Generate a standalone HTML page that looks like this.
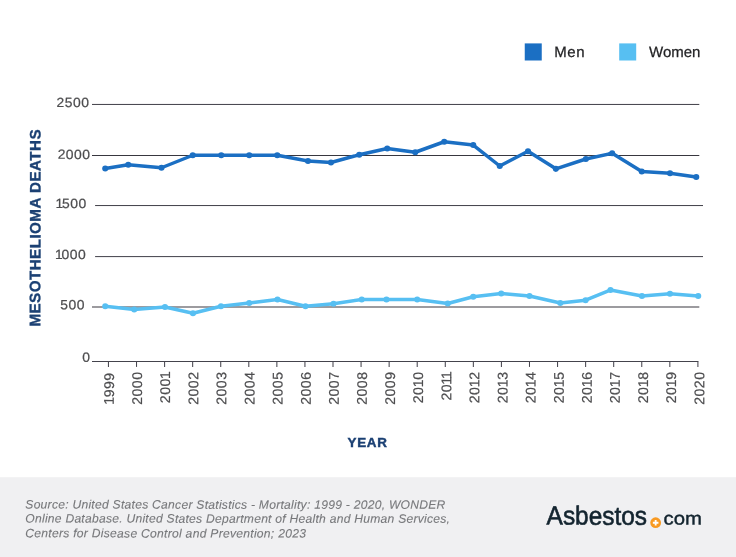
<!DOCTYPE html>
<html lang="en"><head><meta charset="utf-8"><title>Mesothelioma Deaths by Year</title>
<style>
html,body{margin:0;padding:0;background:#fff;}
body{width:736px;height:557px;overflow:hidden;}
svg{display:block;}
text{font-family:"Liberation Sans",Arial,Helvetica,sans-serif;}
.yl{font-size:13.3px;fill:#4d4d4f;stroke:#4d4d4f;stroke-width:0.22px;text-anchor:end;letter-spacing:0.45px;}
.xl{font-size:14px;fill:#4d4d4f;stroke:#4d4d4f;stroke-width:0.2px;letter-spacing:0.55px;}
.ttl{font-weight:bold;fill:#1b4073;stroke:#1b4073;stroke-width:0.35px;}
.src{font-size:12.1px;font-style:italic;fill:#77787b;stroke:#77787b;stroke-width:0.12px;}
.leg{font-size:15px;fill:#222224;stroke:#222224;stroke-width:0.25px;}
.logo{fill:#13242f;stroke:#13242f;stroke-width:0.6px;}
</style></head><body>
<svg width="736" height="557" viewBox="0 0 736 557">
<rect x="0" y="0" width="736" height="557" fill="#ffffff"/>
<rect x="0" y="477.2" width="736" height="80" fill="#f0f0f2"/>
<defs><filter id="soft" x="0" y="0" width="736" height="557" filterUnits="userSpaceOnUse" color-interpolation-filters="sRGB"><feGaussianBlur stdDeviation="0.35"/></filter></defs>
<g filter="url(#soft)">

<rect x="524.75" y="43.4" width="17" height="17.1" fill="#1b6fc3"/>
<text class="leg" transform="translate(554.3,57.0) rotate(0.05)" textLength="30.2">Men</text>
<rect x="619.2" y="43.4" width="17" height="17.1" fill="#57bff2"/>
<text class="leg" transform="translate(649,57.0) rotate(0.05)">Women</text>
<line x1="92.0" y1="104.45" x2="699.3" y2="104.45" stroke="#403f48" stroke-width="1.0"/>
<line x1="92.0" y1="155.5" x2="699.3" y2="155.5" stroke="#38373f" stroke-width="1.0"/>
<line x1="95.1" y1="205.55" x2="703" y2="205.55" stroke="#403f48" stroke-width="1.0"/>
<line x1="95.1" y1="256.6" x2="703" y2="256.6" stroke="#403f48" stroke-width="1.0"/>
<line x1="92.0" y1="307.0" x2="699.3" y2="307.0" stroke="#9c9b9f" stroke-width="2.0"/>
<line x1="92.0" y1="361.5" x2="698.4" y2="361.5" stroke="#44434c" stroke-width="1.05"/>
<line x1="108.45" y1="361.4" x2="108.45" y2="366.9" stroke="#47464f" stroke-width="1.05"/>
<line x1="136.52" y1="361.4" x2="136.52" y2="366.9" stroke="#47464f" stroke-width="1.05"/>
<line x1="164.59" y1="361.4" x2="164.59" y2="366.9" stroke="#47464f" stroke-width="1.05"/>
<line x1="192.66" y1="361.4" x2="192.66" y2="366.9" stroke="#47464f" stroke-width="1.05"/>
<line x1="220.73" y1="361.4" x2="220.73" y2="366.9" stroke="#47464f" stroke-width="1.05"/>
<line x1="248.80" y1="361.4" x2="248.80" y2="366.9" stroke="#47464f" stroke-width="1.05"/>
<line x1="276.86" y1="361.4" x2="276.86" y2="366.9" stroke="#47464f" stroke-width="1.05"/>
<line x1="304.93" y1="361.4" x2="304.93" y2="366.9" stroke="#47464f" stroke-width="1.05"/>
<line x1="333.00" y1="361.4" x2="333.00" y2="366.9" stroke="#47464f" stroke-width="1.05"/>
<line x1="361.07" y1="361.4" x2="361.07" y2="366.9" stroke="#47464f" stroke-width="1.05"/>
<line x1="389.14" y1="361.4" x2="389.14" y2="366.9" stroke="#47464f" stroke-width="1.05"/>
<line x1="417.21" y1="361.4" x2="417.21" y2="366.9" stroke="#47464f" stroke-width="1.05"/>
<line x1="445.28" y1="361.4" x2="445.28" y2="366.9" stroke="#47464f" stroke-width="1.05"/>
<line x1="473.35" y1="361.4" x2="473.35" y2="366.9" stroke="#47464f" stroke-width="1.05"/>
<line x1="501.42" y1="361.4" x2="501.42" y2="366.9" stroke="#47464f" stroke-width="1.05"/>
<line x1="529.49" y1="361.4" x2="529.49" y2="366.9" stroke="#47464f" stroke-width="1.05"/>
<line x1="557.55" y1="361.4" x2="557.55" y2="366.9" stroke="#47464f" stroke-width="1.05"/>
<line x1="585.62" y1="361.4" x2="585.62" y2="366.9" stroke="#47464f" stroke-width="1.05"/>
<line x1="613.69" y1="361.4" x2="613.69" y2="366.9" stroke="#47464f" stroke-width="1.05"/>
<line x1="641.76" y1="361.4" x2="641.76" y2="366.9" stroke="#47464f" stroke-width="1.05"/>
<line x1="669.83" y1="361.4" x2="669.83" y2="366.9" stroke="#47464f" stroke-width="1.05"/>
<line x1="697.90" y1="361.4" x2="697.90" y2="366.9" stroke="#47464f" stroke-width="1.05"/>
<text class="xl" text-anchor="end" transform="translate(113.90,371.5) rotate(-89.95)"><tspan dx="-0.8" style="letter-spacing:-0.3px">1</tspan>999</text>
<text class="xl" text-anchor="end" transform="translate(142.01,371.5) rotate(-89.95)">2000</text>
<text class="xl" text-anchor="end" transform="translate(170.12,371.5) rotate(-89.95)">200<tspan dx="-0.8" style="letter-spacing:-0.3px">1</tspan></text>
<text class="xl" text-anchor="end" transform="translate(198.23,371.5) rotate(-89.95)">2002</text>
<text class="xl" text-anchor="end" transform="translate(226.34,371.5) rotate(-89.95)">2003</text>
<text class="xl" text-anchor="end" transform="translate(254.45,371.5) rotate(-89.95)">2004</text>
<text class="xl" text-anchor="end" transform="translate(282.56,371.5) rotate(-89.95)">2005</text>
<text class="xl" text-anchor="end" transform="translate(310.67,371.5) rotate(-89.95)">2006</text>
<text class="xl" text-anchor="end" transform="translate(338.78,371.5) rotate(-89.95)">2007</text>
<text class="xl" text-anchor="end" transform="translate(366.89,371.5) rotate(-89.95)">2008</text>
<text class="xl" text-anchor="end" transform="translate(395.00,371.5) rotate(-89.95)">2009</text>
<text class="xl" text-anchor="end" transform="translate(423.11,371.5) rotate(-89.95)">20<tspan dx="-0.8" style="letter-spacing:-0.3px">1</tspan>0</text>
<text class="xl" text-anchor="end" transform="translate(451.22,371.5) rotate(-89.95)">20<tspan dx="-0.8" style="letter-spacing:-0.3px">1</tspan><tspan dx="-0.8" style="letter-spacing:-0.3px">1</tspan></text>
<text class="xl" text-anchor="end" transform="translate(479.33,371.5) rotate(-89.95)">20<tspan dx="-0.8" style="letter-spacing:-0.3px">1</tspan>2</text>
<text class="xl" text-anchor="end" transform="translate(507.44,371.5) rotate(-89.95)">20<tspan dx="-0.8" style="letter-spacing:-0.3px">1</tspan>3</text>
<text class="xl" text-anchor="end" transform="translate(535.55,371.5) rotate(-89.95)">20<tspan dx="-0.8" style="letter-spacing:-0.3px">1</tspan>4</text>
<text class="xl" text-anchor="end" transform="translate(563.66,371.5) rotate(-89.95)">20<tspan dx="-0.8" style="letter-spacing:-0.3px">1</tspan>5</text>
<text class="xl" text-anchor="end" transform="translate(591.77,371.5) rotate(-89.95)">20<tspan dx="-0.8" style="letter-spacing:-0.3px">1</tspan>6</text>
<text class="xl" text-anchor="end" transform="translate(619.88,371.5) rotate(-89.95)">20<tspan dx="-0.8" style="letter-spacing:-0.3px">1</tspan>7</text>
<text class="xl" text-anchor="end" transform="translate(647.99,371.5) rotate(-89.95)">20<tspan dx="-0.8" style="letter-spacing:-0.3px">1</tspan>8</text>
<text class="xl" text-anchor="end" transform="translate(676.10,371.5) rotate(-89.95)">20<tspan dx="-0.8" style="letter-spacing:-0.3px">1</tspan>9</text>
<text class="xl" text-anchor="end" transform="translate(704.21,371.5) rotate(-89.95)">2020</text>
<text class="yl" transform="translate(89.35,107.0) scale(1.045,1) rotate(0.05)">2500</text>
<text class="yl" transform="translate(90.44999999999999,158.9) scale(1.045,1) rotate(0.05)">2000</text>
<text class="yl" transform="translate(84.89999999999999,208.0) scale(1.045,1) rotate(0.05)"><tspan dx="1.6" style="letter-spacing:-1.15px">1</tspan>500</text>
<text class="yl" transform="translate(84.39999999999999,259.0) scale(1.045,1) rotate(0.05)"><tspan dx="1.6" style="letter-spacing:-1.15px">1</tspan>000</text>
<text class="yl" transform="translate(84.85,309.2) scale(1.045,1) rotate(0.05)">500</text>
<text class="yl" transform="translate(90.44999999999999,361.79999999999995) scale(1.045,1) rotate(0.05)">0</text>
<text class="ttl" font-size="15.2" textLength="197.2" lengthAdjust="spacing" transform="translate(40.35,326.6) rotate(-89.97)">MESOTHELIOMA DEATHS</text>
<text class="ttl" font-size="13.4" style="stroke-width:0.45px" textLength="39.3" lengthAdjust="spacing" x="347.5" y="447">YEAR</text>
<polyline points="105.22,306.22 134.22,309.47 164.97,306.97 192.97,313.22 220.97,306.22 249.22,302.97 277.47,299.47 305.47,306.22 333.47,303.72 361.72,299.47 386.47,299.47 417.22,299.47 447.72,303.47 473.22,296.72 501.22,293.47 529.47,295.97 560.32,302.97 585.62,300.22 610.47,289.97 641.97,295.97 669.97,293.72 698.22,295.97" fill="none" stroke="#57bff2" stroke-width="3.5" stroke-linejoin="round" stroke-linecap="round"/>
<circle cx="105.22" cy="306.22" r="3.05" fill="#57bff2"/><circle cx="134.22" cy="309.47" r="3.05" fill="#57bff2"/><circle cx="164.97" cy="306.97" r="3.05" fill="#57bff2"/><circle cx="192.97" cy="313.22" r="3.05" fill="#57bff2"/><circle cx="220.97" cy="306.22" r="3.05" fill="#57bff2"/><circle cx="249.22" cy="302.97" r="3.05" fill="#57bff2"/><circle cx="277.47" cy="299.47" r="3.05" fill="#57bff2"/><circle cx="305.47" cy="306.22" r="3.05" fill="#57bff2"/><circle cx="333.47" cy="303.72" r="3.05" fill="#57bff2"/><circle cx="361.72" cy="299.47" r="3.05" fill="#57bff2"/><circle cx="386.47" cy="299.47" r="3.05" fill="#57bff2"/><circle cx="417.22" cy="299.47" r="3.05" fill="#57bff2"/><circle cx="447.72" cy="303.47" r="3.05" fill="#57bff2"/><circle cx="473.22" cy="296.72" r="3.05" fill="#57bff2"/><circle cx="501.22" cy="293.47" r="3.05" fill="#57bff2"/><circle cx="529.47" cy="295.97" r="3.05" fill="#57bff2"/><circle cx="560.32" cy="302.97" r="3.05" fill="#57bff2"/><circle cx="585.62" cy="300.22" r="3.05" fill="#57bff2"/><circle cx="610.47" cy="289.97" r="3.05" fill="#57bff2"/><circle cx="641.97" cy="295.97" r="3.05" fill="#57bff2"/><circle cx="669.97" cy="293.72" r="3.05" fill="#57bff2"/><circle cx="698.22" cy="295.97" r="3.05" fill="#57bff2"/>
<polyline points="105.25,168.50 128.25,164.75 161.50,167.75 192.75,155.25 221.25,155.25 249.25,155.25 277.25,155.25 308.00,161.00 331.00,162.50 359.25,154.75 387.25,148.50 415.25,152.25 444.25,141.75 473.25,145.05 499.75,166.00 528.00,151.25 555.85,168.85 585.85,159.00 612.15,153.25 641.75,171.50 670.00,173.25 696.25,177.00" fill="none" stroke="#1b6fc3" stroke-width="3.5" stroke-linejoin="round" stroke-linecap="round"/>
<circle cx="105.25" cy="168.50" r="3.05" fill="#1b6fc3"/><circle cx="128.25" cy="164.75" r="3.05" fill="#1b6fc3"/><circle cx="161.50" cy="167.75" r="3.05" fill="#1b6fc3"/><circle cx="192.75" cy="155.25" r="3.05" fill="#1b6fc3"/><circle cx="221.25" cy="155.25" r="3.05" fill="#1b6fc3"/><circle cx="249.25" cy="155.25" r="3.05" fill="#1b6fc3"/><circle cx="277.25" cy="155.25" r="3.05" fill="#1b6fc3"/><circle cx="308.00" cy="161.00" r="3.05" fill="#1b6fc3"/><circle cx="331.00" cy="162.50" r="3.05" fill="#1b6fc3"/><circle cx="359.25" cy="154.75" r="3.05" fill="#1b6fc3"/><circle cx="387.25" cy="148.50" r="3.05" fill="#1b6fc3"/><circle cx="415.25" cy="152.25" r="3.05" fill="#1b6fc3"/><circle cx="444.25" cy="141.75" r="3.05" fill="#1b6fc3"/><circle cx="473.25" cy="145.05" r="3.05" fill="#1b6fc3"/><circle cx="499.75" cy="166.00" r="3.05" fill="#1b6fc3"/><circle cx="528.00" cy="151.25" r="3.05" fill="#1b6fc3"/><circle cx="555.85" cy="168.85" r="3.05" fill="#1b6fc3"/><circle cx="585.85" cy="159.00" r="3.05" fill="#1b6fc3"/><circle cx="612.15" cy="153.25" r="3.05" fill="#1b6fc3"/><circle cx="641.75" cy="171.50" r="3.05" fill="#1b6fc3"/><circle cx="670.00" cy="173.25" r="3.05" fill="#1b6fc3"/><circle cx="696.25" cy="177.00" r="3.05" fill="#1b6fc3"/>
<text class="src" transform="translate(25.3,508.5) rotate(0.05)" textLength="420">Source: United States Cancer Statistics - Mortality: 1999 - 2020, WONDER</text>
<text class="src" transform="translate(25.3,522.5) rotate(0.05)" textLength="424.6">Online Database. United States Department of Health and Human Services,</text>
<text class="src" transform="translate(25.3,537.3) rotate(0.05)" textLength="280.6">Centers for Disease Control and Prevention; 2023</text>
<text class="logo" transform="translate(546.6,524.6) rotate(0.05)" font-size="26" textLength="100.4" lengthAdjust="spacingAndGlyphs">Asbestos</text>
<circle cx="655.65" cy="522.7" r="5.4" fill="#f89a22"/>
<path d="M655.65 519.9v5.6M652.85 522.7h5.6" stroke="#fff" stroke-width="1.85" fill="none"/>
<text class="logo" style="stroke-width:0.4px" transform="translate(663.5,524.6) rotate(0.05)" font-size="18" textLength="38.4" lengthAdjust="spacingAndGlyphs">com</text>
</g>
</svg>
</body></html>
